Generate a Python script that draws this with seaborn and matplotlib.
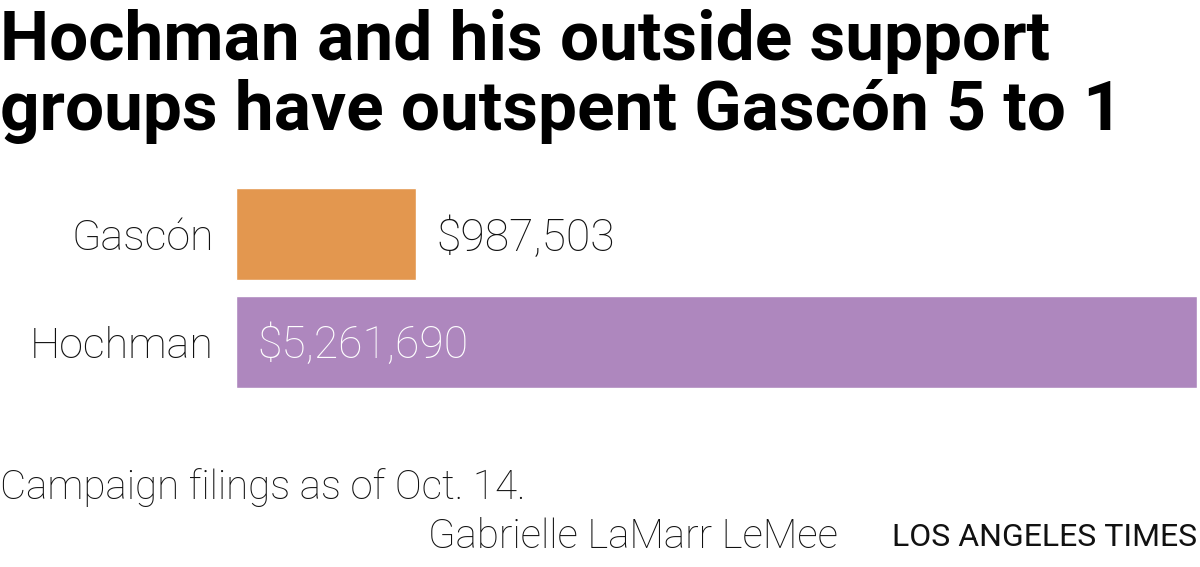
import matplotlib
matplotlib.use("Agg")
import pandas as pd
import seaborn as sns
import matplotlib.pyplot as plt

candidates = ["Gascón", "Hochman"]
spending = [987503, 5261690]
bar_colors = ["#E3974F", "#AE87BE"]
value_labels = ["$987,503", "$5,261,690"]

title = "Hochman and his outside support\ngroups have outspent Gascón 5 to 1"
note = "Campaign filings as of Oct. 14."
byline = "Gabrielle LaMarr LeMee"
source = "LOS ANGELES TIMES"

sns.set_style("white")
plt.rcParams['font.family'] = ['Roboto', 'DejaVu Sans']

df = pd.DataFrame({"candidate": candidates, "spending": spending})

fig = plt.figure(figsize=(12, 5.67), dpi=100)
ax = fig.add_axes([236 / 1200, 1 - 388 / 567, (1197 - 236) / 1200, 200 / 567])

sns.barplot(data=df, x="spending", y="candidate", hue="candidate",
            palette=bar_colors, width=0.86, legend=False, ax=ax, saturation=1)

ax.set_xlim(0, max(spending))
ax.set_ylim(1.43, -0.43)
ax.set_xlabel("")
ax.set_ylabel("")
ax.set_xticks([])
ax.tick_params(axis="y", length=0, pad=16, labelsize=31, labelcolor="#111111")
for lbl in ax.get_yticklabels():
    lbl.set_fontweight("light")
sns.despine(ax=ax, left=True, bottom=True)

for i, (v, txt) in enumerate(zip(spending, value_labels)):
    if v > max(spending) * 0.5:
        ax.text(max(spending) * 0.022, i + 0.04, txt, ha="left", va="center",
                color="white", fontsize=32, fontweight="light")
    else:
        ax.text(v + max(spending) * 0.021, i + 0.04, txt, ha="left", va="center",
                color="#111111", fontsize=32, fontweight="light")

fig.text(0.0, 1 - 9 / 567, title, ha="left", va="top", fontsize=50,
         fontweight="bold", linespacing=1.1, color="black")
fig.text(0.0, 1 - 488 / 567, note, ha="left", va="center", fontsize=29,
         fontweight="light", color="#111111")
fig.text(838 / 1200, 1 - 537 / 567, byline, ha="right", va="center", fontsize=29,
         fontweight="light", color="#111111")
fig.text(1197 / 1200, 1 - 537 / 567, source, ha="right", va="center", fontsize=23,
         color="#111111")

fig.savefig("out.png", dpi=100)
